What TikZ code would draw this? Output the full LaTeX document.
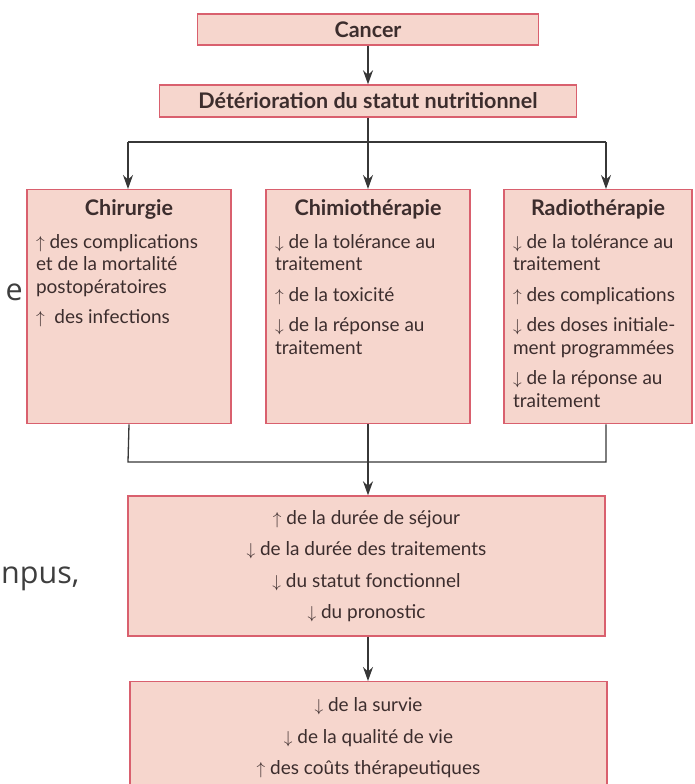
\documentclass[tikz,border=0pt]{standalone}
\usepackage{fontspec}
\usepackage{tikz}
\setmainfont{Lato}
\newfontfamily\slidefont{Open Sans}
\definecolor{boxpink}{RGB}{246, 214, 205}
\definecolor{boxred}{RGB}{217, 96, 110}
\definecolor{linegray}{RGB}{55, 55, 55}
\definecolor{txtbrown}{RGB}{60, 45, 45}
\definecolor{slidegray}{RGB}{62, 62, 62}
\usetikzlibrary{arrows.meta, positioning, calc}
\newcommand{\hausse}{$\uparrow$\ }
\newcommand{\baisse}{$\downarrow$\ }
\newcommand{\boxtitle}[1]{{\centering\fontsize{21.5}{24}\selectfont\bfseries #1\par}\vspace{10pt}}

\begin{document}
\begin{tikzpicture}[
    x=1pt, y=-1pt,
    >={Stealth[length=14pt, width=10pt]},
    box/.style={draw=boxred, fill=boxpink, line width=1.4pt, text=txtbrown},
    headbox/.style={box, inner sep=0pt, font=\fontsize{21.5}{24}\selectfont\bfseries},
    sidebox/.style={box, anchor=north, inner xsep=9pt, inner ysep=0pt, font=\fontsize{19}{22.5}\selectfont},
    effectbox/.style={box, align=center, font=\fontsize{19}{31.5}\selectfont},
    slidetext/.style={inner sep=0pt, font=\slidefont\fontsize{30.5}{32}\selectfont, text=slidegray},
    link/.style={draw=linegray, line width=1.3pt}
]
    \useasboundingbox (0,0) rectangle (694,784);
    \clip (0,0) rectangle (694,784);

    % bits of the slide behind
    \node[slidetext, anchor=base east] (slideA) at (23,300) {e};
    \node[slidetext, anchor=base west] (slideB) at (1,583) {npus,};

    % Top of the chain
    \node[headbox, minimum width=341, minimum height=31] (cancer) at (368,29.5) {Cancer};
    \node[headbox, minimum width=417, minimum height=32] (det) at (368,101) {Détérioration du statut nutritionnel};

    % Three treatments
    \node[sidebox, minimum width=204] (chir) at (129,189) {\parbox[t][234pt][t]{186pt}{%
        \vspace*{10pt}\boxtitle{Chirurgie}%
        \hausse des complications\\
        et de la mortalité\\
        postopératoires\\[8pt]
        \hausse\ des infections}};
    \node[sidebox, minimum width=204] (chimio) at (368,189) {\parbox[t][234pt][t]{186pt}{%
        \vspace*{10pt}\boxtitle{Chimiothérapie}%
        \baisse de la tolérance au\\
        traitement\\[8pt]
        \hausse de la toxicité\\[8pt]
        \baisse de la réponse au\\
        traitement}};
    \node[sidebox, minimum width=188] (radio) at (598,189) {\parbox[t][234pt][t]{170pt}{%
        \vspace*{10pt}\boxtitle{Radiothérapie}%
        \baisse de la tolérance au\\
        traitement\\[8pt]
        \hausse des complications\\[8pt]
        \baisse des doses initiale-\\
        ment programmées\\[8pt]
        \baisse de la réponse au\\
        traitement}};

    % Consequences
    \node[effectbox, minimum width=477, minimum height=140] (suite) at (366.5,566) {%
        \hausse de la durée de séjour\\
        \baisse de la durée des traitements\\
        \baisse du statut fonctionnel\\
        \baisse du pronostic};
    \node[effectbox, anchor=north, minimum width=477, minimum height=112] (fin) at (368.5,681) {%
        \baisse de la survie\\
        \baisse de la qualité de vie\\
        \hausse des coûts thérapeutiques};

    % Connectors
    \coordinate (splitL) at (128,142);
    \coordinate (splitR) at (606,142);
    \coordinate (joinL) at (128,462);
    \coordinate (joinR) at (606,462);

    \draw[link, ->] (cancer.south) -- (cancer.south |- det.north);
    \draw[link, ->] (det.south) -- (det.south |- chimio.north);
    \draw[link] (splitL) -- (splitR);
    \draw[link, ->] (splitL) -- (splitL |- chir.north);
    \draw[link, ->] (splitR) -- (splitR |- radio.north);

    \draw[link] (chir.south) -- (joinL) -- (joinR) -- (joinR |- radio.south);
    \draw[link, ->] (chimio.south) -- (chimio.south |- suite.north);
    \draw[link, ->] (chimio.south |- suite.south) -- (chimio.south |- fin.north);
\end{tikzpicture}
\end{document}
